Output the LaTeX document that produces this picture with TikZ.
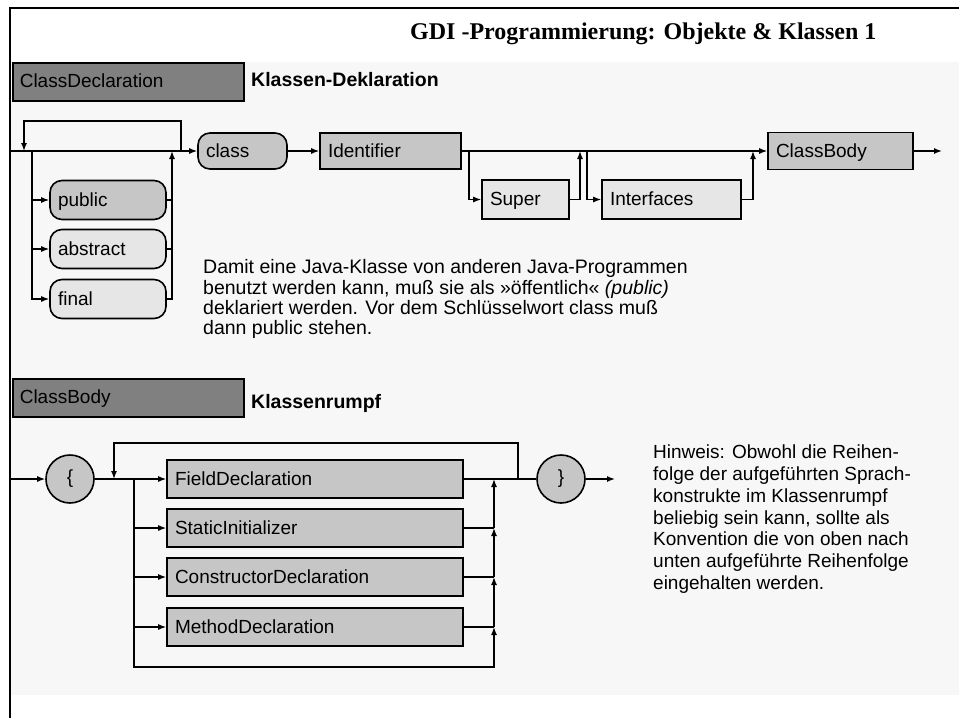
\documentclass[tikz,border=0pt]{standalone}
\usepackage{fontspec}
\setmainfont{Liberation Sans}
\newfontfamily\titlefont{Liberation Serif}
\usetikzlibrary{arrows.meta}

\definecolor{panel}{HTML}{F7F7F7}
\definecolor{headfill}{HTML}{808080}
\definecolor{ntfill}{HTML}{C6C6C6}
\definecolor{optfill}{HTML}{E6E6E6}

\tikzset{
  every node/.style={font=\fontsize{19}{20}\selectfont},
  wire/.style={line width=1.4pt},
  flow/.style={line width=1.4pt, -{Latex[length=8pt,width=6pt]}},
  hdr/.style={draw, line width=1.6pt, fill=headfill, anchor=north west,
    minimum width=231pt, minimum height=38pt, text width=217pt,
    text height=15pt, text depth=3pt,
    inner xsep=7pt, inner ysep=0pt, align=left},
  ntbox/.style={draw, line width=1.6pt, fill=ntfill, inner xsep=8pt,
    text height=15pt, text depth=3pt,
    inner ysep=0pt, align=left},
  optbox/.style={ntbox, fill=optfill},
  term/.style={ntbox, rounded corners=12pt},
  optterm/.style={term, fill=optfill},
  brace/.style={draw, line width=1.6pt, fill=ntfill, circle,
    minimum size=48pt, inner sep=0pt},
  plain/.style={inner sep=0pt, align=left},
}

\begin{document}
\begin{tikzpicture}[x=1pt,y=-1pt]
\useasboundingbox (0,0) rectangle (959,718);
\fill[white] (0,0) rectangle (959,718);
\fill[panel] (10,62) rectangle (959,695);
\draw[line width=1.6pt] (10,718) -- (10,8) -- (959,8);

% title
\node[plain, anchor=base west,
  font=\titlefont\bfseries\fontsize{24}{28}\selectfont] (title) at (410,39)
  {GDI -Programmierung: Objekte \& Klassen 1};

% ---------- ClassDeclaration ----------
\node[hdr] (hdrCD) at (12,62) {ClassDeclaration};
\node[plain, anchor=west, font=\bfseries\fontsize{19.5}{20}\selectfont] (ttlCD) at (251,80) {Klassen-Deklaration};

\node[term, minimum width=89pt, minimum height=36pt, text width=73pt] (cls) at (242.5,151) {class};
\node[ntbox, minimum width=141pt, minimum height=36pt, text width=125pt] (ident) at (390.5,151) {Identifier};
\node[ntbox, minimum width=145pt, minimum height=37pt, text width=129pt] (cbody) at (840.5,151) {ClassBody};
\node[optbox, minimum width=87pt, minimum height=39pt, text width=71pt] (super) at (525.5,199.5) {Super};
\node[optbox, minimum width=139pt, minimum height=39pt, text width=123pt] (ifaces) at (671.5,199.5) {Interfaces};

\node[term, minimum width=116pt, minimum height=39pt, text width=100pt] (pub) at (108,200) {public};
\node[optterm, minimum width=116pt, minimum height=39pt, text width=100pt] (abs) at (108,249) {abstract};
\node[optterm, minimum width=116pt, minimum height=39pt, text width=100pt] (fin) at (108,299) {final};

\coordinate (cdIn) at (10,151);
\coordinate (modSplit) at (32,151);
\coordinate (modJoin) at (172,151);
\coordinate (loopUp) at (181,151);
\coordinate (loopDown) at (24,151);
\coordinate (supSplit) at (469,151);
\coordinate (supJoin) at (580,151);
\coordinate (ifcSplit) at (587,151);
\coordinate (ifcJoin) at (753,151);
\coordinate (cdOut) at (942,151);

\draw[flow] (cdIn) -- (cls.west);
\draw[flow] (loopUp) -- (181,121) -- (24,121) -- (loopDown);
\draw[flow] (modSplit) |- (pub.west);
\draw[flow] (modSplit) |- (abs.west);
\draw[flow] (modSplit) |- (fin.west);
\draw[wire] (pub.east) -- (pub.east -| modJoin);
\draw[wire] (abs.east) -- (abs.east -| modJoin);
\draw[flow] (fin.east) -| (modJoin);
\draw[flow] (cls.east) -- (ident.west);
\draw[flow] (ident.east) -- (cbody.west);
\draw[flow] (supSplit) |- (super.west);
\draw[flow] (super.east) -| (supJoin);
\draw[flow] (ifcSplit) |- (ifaces.west);
\draw[flow] (ifaces.east) -| (ifcJoin);
\draw[flow] (cbody.east) -- (cdOut);

\node[plain, anchor=north west, font=\fontsize{19.5}{20.2}\selectfont] (noteCD) at (203,259.5)
  {Damit eine Java-Klasse von anderen Java-Programmen\\
   benutzt werden kann, muß sie als »öffentlich« \textit{(public)}\\
   deklariert werden. Vor dem Schlüsselwort class muß\\
   dann public stehen.};

% ---------- ClassBody ----------
\node[hdr] (hdrCB) at (12,378) {ClassBody};
\node[plain, anchor=west, font=\bfseries\fontsize{19.5}{20}\selectfont] (ttlCB) at (251,403) {Klassenrumpf};

\node[brace] (lbr) at (70,479) {\{};
\node[brace] (rbr) at (561,479) {\}};
\node[ntbox, minimum width=296pt, minimum height=38pt, text width=280pt] (fdecl) at (315,479) {FieldDeclaration};
\node[ntbox, minimum width=296pt, minimum height=38pt, text width=280pt] (sinit) at (315,528) {StaticInitializer};
\node[ntbox, minimum width=296pt, minimum height=38pt, text width=280pt] (cdecl) at (315,577) {ConstructorDeclaration};
\node[ntbox, minimum width=296pt, minimum height=38pt, text width=280pt] (mdecl) at (315,627) {MethodDeclaration};

\coordinate (cbIn) at (10,479);
\coordinate (bodySplit) at (134,479);
\coordinate (bodyLoopDown) at (114,479);
\coordinate (bodyLoopUp) at (518,479);
\coordinate (bodyJoin) at (494,479);
\coordinate (cbOut) at (615,479);

\draw[flow] (cbIn) -- (lbr.west);
\draw[flow] (lbr.east) -- (fdecl.west);
\draw[flow] (bodyLoopUp) -- (518,443) -- (114,443) -- (bodyLoopDown);
\draw[wire] (fdecl.east) -- (rbr.west);
\draw[flow] (bodySplit) |- (sinit.west);
\draw[flow] (bodySplit) |- (cdecl.west);
\draw[flow] (bodySplit) |- (mdecl.west);
\draw[flow] (bodySplit) -- (134,667) -| (mdecl.east -| bodyJoin);
\draw[wire] (mdecl.east) -- (mdecl.east -| bodyJoin);
\draw[flow] (mdecl.east -| bodyJoin) -- (cdecl.east -| bodyJoin);
\draw[wire] (cdecl.east) -- (cdecl.east -| bodyJoin);
\draw[flow] (cdecl.east -| bodyJoin) -- (sinit.east -| bodyJoin);
\draw[wire] (sinit.east) -- (sinit.east -| bodyJoin);
\draw[flow] (sinit.east -| bodyJoin) -- (bodyJoin);
\draw[flow] (rbr.east) -- (cbOut);

\node[plain, anchor=north west, font=\fontsize{19}{21.7}\selectfont] (noteCB) at (653,445)
  {Hinweis: Obwohl die Reihen-\\
   folge der aufgeführten Sprach-\\
   konstrukte im Klassenrumpf\\
   beliebig sein kann, sollte als\\
   Konvention die von oben nach\\
   unten aufgeführte Reihenfolge\\
   eingehalten werden.};
\end{tikzpicture}
\end{document}
